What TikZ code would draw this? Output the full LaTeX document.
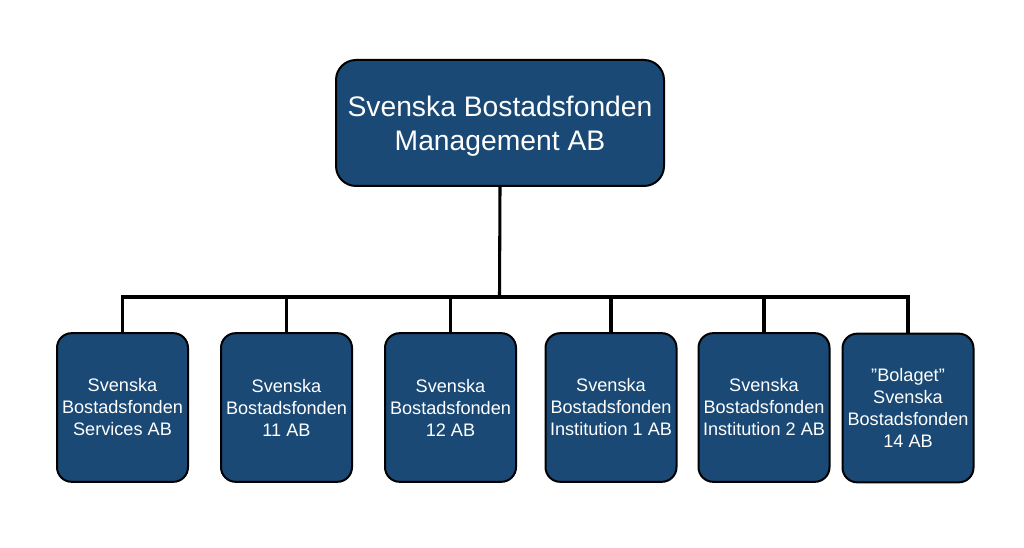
\documentclass[tikz,border=0pt]{standalone}
\usepackage{fontspec}
\setmainfont{Liberation Sans}
\definecolor{boxblue}{RGB}{25,73,116}
\begin{document}
\begin{tikzpicture}[x=0.75pt,y=-0.75pt,
  box/.style={draw=black, line width=1.5pt, fill=boxblue, text=white, align=center, inner sep=0pt},
  topbox/.style={box, rounded corners=15pt, minimum width=246pt, minimum height=94.5pt},
  toptext/.style={text=white, align=center, inner sep=0pt, font=\fontsize{21.2}{25.5}\selectfont},
  childbox/.style={box, rounded corners=11pt, minimum width=98.25pt, minimum height=111.5pt, font=\fontsize{13.6}{16.5}\selectfont},
  link/.style={line width=2.3pt, line cap=rect}]
\useasboundingbox (0,0) rectangle (1024,548);
\coordinate (j) at (499.5,297);
\node[topbox] (m) at (500,123) {};
\node[toptext] (mt) at (500,126) {Svenska Bostadsfonden\\Management AB};
\node[childbox] (c1) at (122.5,407.5) {Svenska\\Bostadsfonden\\Services AB};
\node[childbox] (c2) at (286.5,407.5) {Svenska\\Bostadsfonden\\11 AB};
\node[childbox] (c3) at (450.5,407.5) {Svenska\\Bostadsfonden\\12 AB};
\node[childbox] (c4) at (611,407.5) {Svenska\\Bostadsfonden\\Institution 1 AB};
\node[childbox] (c5) at (764,407.5) {Svenska\\Bostadsfonden\\Institution 2 AB};
\node[childbox] (c6) at (908,408) {”Bolaget”\\Svenska\\Bostadsfonden\\14 AB};
\draw[link] (m.south) -- (j);
\draw[link] (c1.north) |- (j);
\draw[link] (c6.north) |- (j);
\foreach \c in {c2,c3,c4,c5} \draw[link] (\c.north) -- (\c.north |- j);
\end{tikzpicture}
\end{document}
